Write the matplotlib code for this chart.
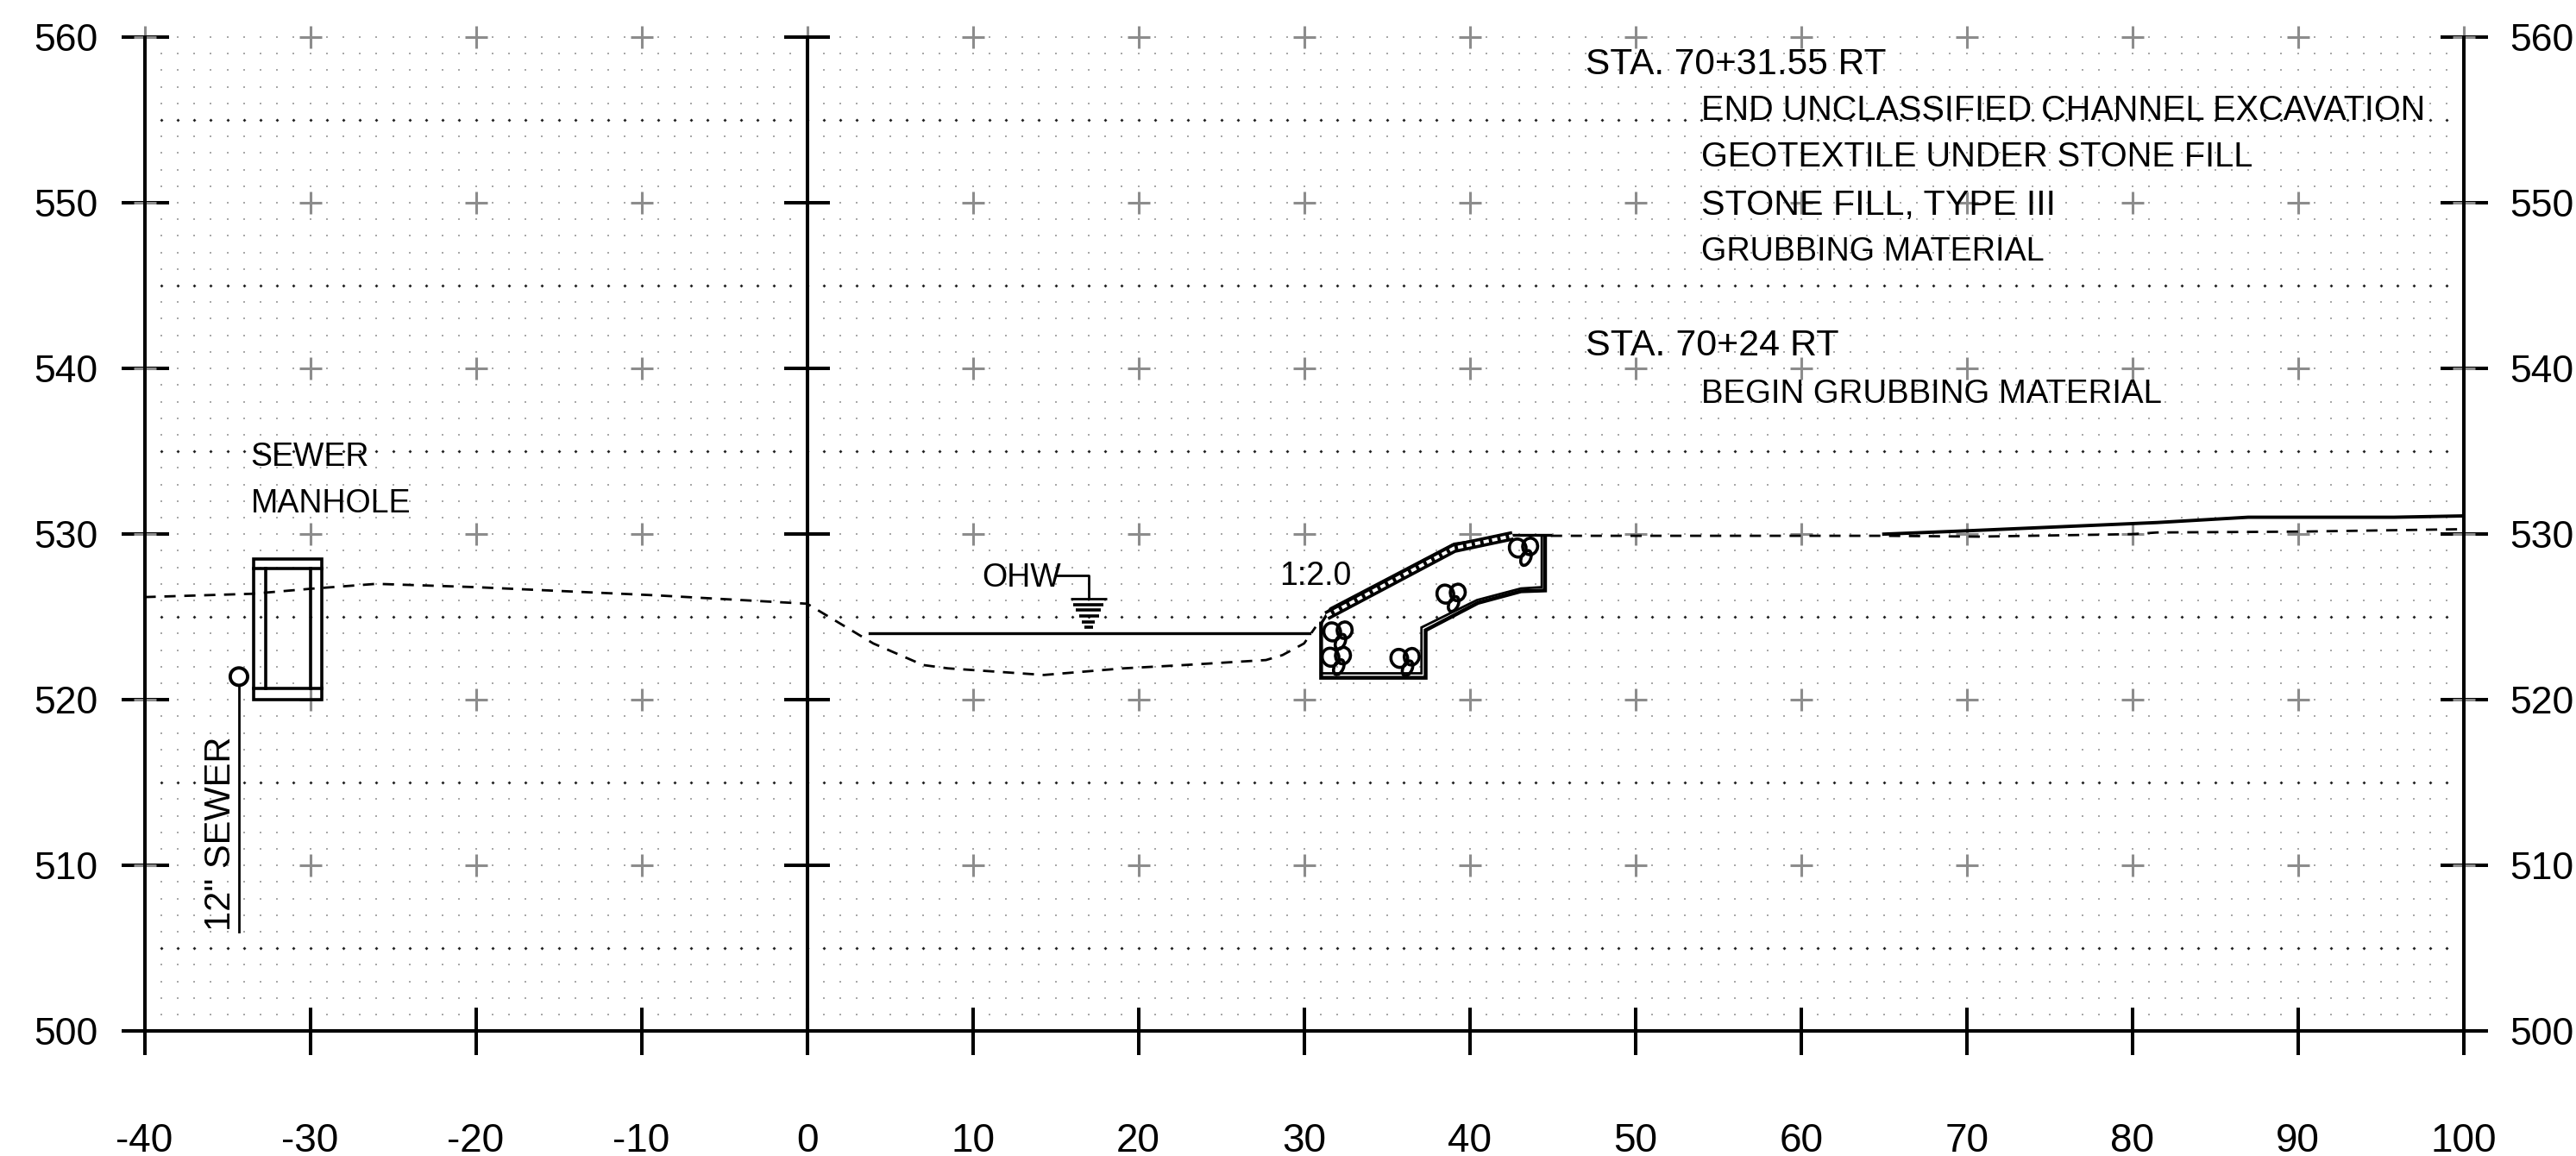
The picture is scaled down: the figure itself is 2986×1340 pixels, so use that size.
import numpy as np
import matplotlib
matplotlib.use("Agg")
import matplotlib.pyplot as plt
from matplotlib.patches import Ellipse, Rectangle

# ---------------- DATA ----------------
x_ticks = list(range(-40, 101, 10))
y_ticks = list(range(500, 561, 10))
x_labels = [str(v) for v in x_ticks]
y_labels = [str(v) for v in y_ticks]

ground_x = [-40, -33.5, -30, -26, -20, -9, 0, 4, 7, 8.5, 14.3, 19.1, 22.8, 27.7, 28.7, 30, 30.7]
ground_y = [526.2, 526.4, 526.7, 527.0, 526.8, 526.3, 525.8, 523.4, 522.1, 521.9, 521.5, 521.9, 522.1, 522.4, 522.7, 523.4, 524.4]
ground2_x = [44.9, 65, 70.7, 80, 81.5, 90, 100]
ground2_y = [529.9, 529.9, 529.85, 530.0, 530.1, 530.15, 530.3]

finish_x = [65, 70, 81.5, 87, 95.8, 100]
finish_y = [530.0, 530.2, 530.7, 531.02, 531.02, 531.1]

water_x = [3.75, 30.35]
water_y = [524.0, 524.0]

# stone fill section
outer_x = [31.03, 31.03, 37.34, 37.34, 40.5, 43.1, 44.55, 44.55]
outer_y = [524.6, 521.33, 521.33, 524.2, 525.85, 526.55, 526.6, 529.85]
inner_x = [31.03, 37.09, 37.09, 40.44, 43.09, 44.35, 44.35]
inner_y = [521.6, 521.6, 524.37, 526.02, 526.72, 526.8, 529.85]
top_x = [31.03, 31.6, 39.05, 42.6, 44.9]
top_y = [524.6, 525.5, 529.4, 529.93, 529.93]
band_x = [31.36, 39.05, 42.6]
band_y = [525.07, 529.15, 529.9]
cluster_x = [32.1, 32.0, 36.15, 38.93, 43.3]
cluster_y = [524.0, 522.47, 522.4, 526.28, 529.06]

# water level symbol
ohw_left = [15.93, 16.05, 16.2, 16.43, 16.6, 16.73]
ohw_right = [18.07, 17.87, 17.75, 17.6, 17.36, 17.24]
ohw_level = [526.08, 525.76, 525.4, 525.05, 524.7, 524.36]

# x, y, text, width on the sheet in x units
notes = [
    (47, 558.35, "STA. 70+31.55 RT", 18.1),
    (54, 555.55, "END UNCLASSIFIED CHANNEL EXCAVATION", 43.6),
    (54, 552.75, "GEOTEXTILE UNDER STONE FILL", 33.3),
    (54, 549.85, "STONE FILL, TYPE III", 21.4),
    (54, 547.05, "GRUBBING MATERIAL", 20.7),
    (47, 541.35, "STA. 70+24 RT", 15.6),
    (54, 538.45, "BEGIN GRUBBING MATERIAL", 27.8),
    (-33.6, 534.65, "SEWER", 6.7),
    (-33.6, 531.85, "MANHOLE", 9.3),
    (10.55, 527.35, "OHW", 4.1),
    (28.5, 527.45, "1:2.0", 4.0),
]

W, H = 2986, 1340
LEFT, RIGHT, TOP, BOTTOM = 167.5, 2855.7, 43.0, 1195.3
PX_PER_UNIT = 19.2

plt.rcParams["font.family"] = ["Liberation Sans"]

fig = plt.figure(figsize=(W / 100, H / 100), dpi=100, facecolor="white")
ax = fig.add_axes([LEFT / W, 1 - BOTTOM / H, (RIGHT - LEFT) / W, (BOTTOM - TOP) / H])
ax.set_xlim(-40, 100)
ax.set_ylim(500, 560)

# ---------------- DOT GRID ----------------
dot_x, dot_y = np.meshgrid(np.arange(-39, 100), np.arange(501, 561))
dot_x = dot_x.ravel()
dot_y = dot_y.ravel()
major = (dot_y % 10) == 5
ax.scatter(dot_x[~major], dot_y[~major], s=1.6, marker="s", color="#a8a8a8", linewidths=0, zorder=1, clip_on=False)
ax.scatter(dot_x[major], dot_y[major], s=4, marker="D", color="#222222", linewidths=0, zorder=1, clip_on=False)

# ---------------- CROSSES ----------------
cross_x, cross_y = np.meshgrid(x_ticks, y_ticks[1:])
ax.plot(cross_x.ravel(), cross_y.ravel(), linestyle="none", marker="+", markersize=18.4,
        markeredgewidth=2.2, color="#8c8c8c", zorder=2, clip_on=False)

# ---------------- AXES ----------------
ax.spines["top"].set_visible(False)
for side in ["left", "right", "bottom"]:
    ax.spines[side].set_linewidth(2.9)
    ax.spines[side].set_zorder(3)

ax.set_xticks(x_ticks, x_labels)
ax.set_yticks(y_ticks, y_labels)
ax.tick_params(axis="y", direction="inout", length=39.6, width=2.9, labelsize=32, pad=19,
               left=True, right=True, labelleft=True, labelright=True)
ax.tick_params(axis="x", direction="inout", length=39.6, width=2.9, labelsize=33, pad=56)

# centre axis at x = 0 with its own ticks
ax.plot([0, 0], [498.6, 560], color="black", lw=2.9, zorder=3, clip_on=False, solid_capstyle="butt")
ax.hlines(y_ticks, -1.4, 1.4, color="black", lw=2.9, zorder=3, clip_on=False)
ax.plot([-41.4, 101.4], [500, 500], color="black", lw=2.9, zorder=3, clip_on=False, solid_capstyle="butt")

# ---------------- GROUND LINES ----------------
ax.plot(ground_x, ground_y, color="black", lw=2, dashes=(4.7, 3.6), zorder=4)
ax.plot(ground2_x, ground2_y, color="black", lw=2, dashes=(4.7, 3.6), zorder=4)
ax.plot(finish_x, finish_y, color="black", lw=2.8, zorder=4)
ax.plot(water_x, water_y, color="black", lw=2.4, zorder=4)

# ---------------- MANHOLE AND SEWER ----------------
ax.add_patch(Rectangle((-33.4, 520), 4.1, 8.5, fill=False, edgecolor="black", lw=2.6, zorder=5))
ax.plot([-33.4, -29.3], [527.9, 527.9], color="black", lw=2.6, zorder=5)
ax.plot([-33.4, -29.3], [520.7, 520.7], color="black", lw=2.6, zorder=5)
ax.plot([-32.7, -32.7], [527.9, 520.7], color="black", lw=2.6, zorder=5)
ax.plot([-30.0, -30.0], [527.9, 520.7], color="black", lw=2.6, zorder=5)
ax.plot([-34.3, -34.3], [520.9, 506.0], color="black", lw=2, zorder=5)
ax.add_patch(Ellipse((-34.3, 521.4), 1.05, 1.05, facecolor="white", edgecolor="black", lw=2.8, zorder=6))

# ---------------- OHW SYMBOL ----------------
ax.plot([15.1, 17, 17], [527.5, 527.5, 526.08], color="black", lw=2, zorder=5)
ax.hlines(ohw_level[0], ohw_left[0], ohw_right[0], color="black", lw=2, zorder=5)
ax.hlines(ohw_level[1:], ohw_left[1:], ohw_right[1:], color="black", lw=2.6, zorder=5)

# ---------------- STONE FILL SECTION ----------------
ax.plot(outer_x, outer_y, color="black", lw=3.2, zorder=5, solid_joinstyle="miter")
ax.plot(inner_x, inner_y, color="black", lw=2, zorder=5, solid_joinstyle="miter")
ax.plot(top_x, top_y, color="black", lw=2.4, zorder=5)
ax.plot(band_x, band_y, color="black", lw=8, zorder=5, solid_capstyle="butt")
ax.plot(band_x, band_y, color="white", lw=2.8, dashes=(1.6, 1.0), zorder=6)

offs_x = [-0.4, 0.35, 0.1]
offs_y = [0.1, 0.2, -0.5]
widths = [1.0, 0.9, 0.55]
heights = [1.1, 1.0, 0.95]
angles = [20, -10, -25]
for cx, cy in zip(cluster_x, cluster_y):
    for ox, oy, ew, eh, ang in zip(offs_x, offs_y, widths, heights, angles):
        ax.add_patch(Ellipse((cx + ox, cy + oy), ew, eh, angle=ang, fill=False,
                             edgecolor="black", lw=2.6, zorder=7))

# ---------------- TEXT ----------------
renderer = fig.canvas.get_renderer()
for tx, ty, label, span in notes:
    t = ax.text(tx, ty, label, fontsize=30, color="black", ha="left", va="center", zorder=8)
    # the sheet's lettering runs narrower than the font, so fit each line to its width
    size = 30 * span * PX_PER_UNIT / t.get_window_extent(renderer).width
    t.set_fontsize(float(np.clip(size, 27, 31)))

ax.text(-35.4, 511.95, '12" SEWER', fontsize=30, color="black",
        rotation=90, ha="center", va="center", zorder=8)

fig.savefig("out.png", dpi=100, facecolor="white")
plt.close(fig)
